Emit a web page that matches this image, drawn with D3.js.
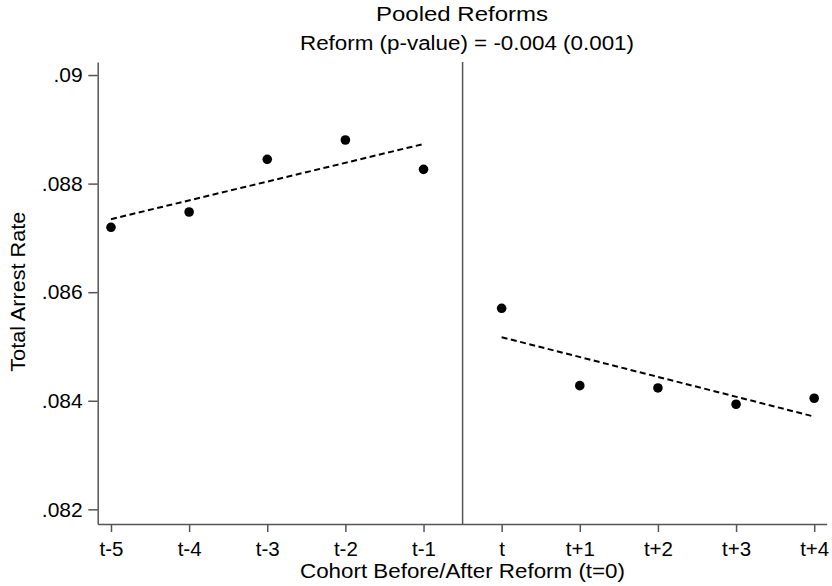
<!DOCTYPE html>
<html>
<head>
<meta charset="utf-8">
<script src="https://cdn.jsdelivr.net/npm/d3@7"></script>
<style>
  html, body { margin: 0; padding: 0; background: #fff; }
  svg { display: block; font-family: "Liberation Sans", Arial, sans-serif; }
</style>
</head>
<body>
<svg id="chart" width="832" height="586"></svg>
<script>
// ---- data ----
const cohortLabels = ["t-5", "t-4", "t-3", "t-2", "t-1", "t", "t+1", "t+2", "t+3", "t+4"];
const cohortPositions = [-5, -4, -3, -2, -1, 0, 1, 2, 3, 4];
const arrestRates = [0.087195, 0.087477, 0.088448, 0.088803, 0.088263,
                     0.085703, 0.084278, 0.084236, 0.083936, 0.084046];
const yTickValues = [0.082, 0.084, 0.086, 0.088, 0.090];
const yTickLabels = [".082", ".084", ".086", ".088", ".09"];
const reformCutoff = -0.5;
const titleText = "Pooled Reforms";
const subtitleText = "Reform (p-value) = -0.004 (0.001)";
const xTitleText = "Cohort Before/After Reform (t=0)";
const yTitleText = "Total Arrest Rate";

// ---- layout ----
const svg = d3.select("#chart");
const x = d3.scaleLinear().domain([-5.17, 4.16]).range([97.7, 826.7]);
const y = d3.scaleLinear().domain([0.08173, 0.09024]).range([524, 62]);
const axisColor = "#555";

const points = cohortPositions.map((p, i) => ({ x: p, v: arrestRates[i], label: cohortLabels[i] }));
const pre = points.filter(d => d.x < reformCutoff);
const post = points.filter(d => d.x > reformCutoff);

function olsFit(arr) {
  const mx = d3.mean(arr, d => d.x), my = d3.mean(arr, d => d.v);
  const sxy = d3.sum(arr, d => (d.x - mx) * (d.v - my));
  const sxx = d3.sum(arr, d => (d.x - mx) * (d.x - mx));
  const b = sxy / sxx, a = my - b * mx;
  const x0 = d3.min(arr, d => d.x), x1 = d3.max(arr, d => d.x);
  return [{ x: x0, v: a + b * x0 }, { x: x1, v: a + b * x1 }];
}

// axes
const xAxis = d3.axisBottom(x)
  .tickValues(cohortPositions)
  .tickFormat((d, i) => cohortLabels[i])
  .tickSize(8).tickSizeOuter(0).tickPadding(9.5);
const yAxis = d3.axisLeft(y)
  .tickValues(yTickValues)
  .tickFormat((d, i) => yTickLabels[i])
  .tickSize(9.4).tickSizeOuter(0).tickPadding(5.6);

const gx = svg.append("g").attr("transform", "translate(0,524)").call(xAxis);
const gy = svg.append("g").attr("transform", "translate(97.7,0)").call(yAxis);
[gx, gy].forEach(g => {
  g.select(".domain").attr("stroke", axisColor).attr("stroke-width", 1.5);
  g.selectAll(".tick line").attr("stroke", axisColor).attr("stroke-width", 1.5);
  g.selectAll(".tick text").attr("fill", "#000")
    .style("font-family", "'Liberation Sans', Arial, sans-serif");
});
gx.selectAll(".tick text").style("font-size", "20.5px");
gy.selectAll(".tick text").style("font-size", "21px");

// reform line
svg.append("line")
  .attr("x1", x(reformCutoff)).attr("x2", x(reformCutoff))
  .attr("y1", y.range()[1]).attr("y2", y.range()[0])
  .attr("stroke", axisColor).attr("stroke-width", 1.5);

// fit lines
const line = d3.line().x(d => x(d.x)).y(d => y(d.v));
[pre, post].forEach(seg => {
  svg.append("path")
    .attr("d", line(olsFit(seg)))
    .attr("fill", "none").attr("stroke", "#000")
    .attr("stroke-width", 2).attr("stroke-dasharray", "6,3.5");
});

// points
svg.append("g").selectAll("circle").data(points).join("circle")
  .attr("cx", d => x(d.x)).attr("cy", d => y(d.v)).attr("r", 4.8)
  .attr("fill", "#000");

// titles
svg.append("text").attr("x", 462).attr("y", 21).attr("text-anchor", "middle")
  .style("font-size", "21px").attr("textLength", 172).attr("lengthAdjust", "spacingAndGlyphs")
  .text(titleText);
svg.append("text").attr("x", 467).attr("y", 50).attr("text-anchor", "middle")
  .style("font-size", "20px").attr("textLength", 334).attr("lengthAdjust", "spacingAndGlyphs")
  .text(subtitleText);
svg.append("text").attr("x", 462.5).attr("y", 577.5).attr("text-anchor", "middle")
  .style("font-size", "20px").attr("textLength", 325).attr("lengthAdjust", "spacingAndGlyphs")
  .text(xTitleText);
svg.append("text").attr("transform", "translate(25,291.7) rotate(-90)")
  .attr("text-anchor", "middle")
  .style("font-size", "20.5px").attr("textLength", 160).attr("lengthAdjust", "spacingAndGlyphs")
  .text(yTitleText);
</script>
</body>
</html>
